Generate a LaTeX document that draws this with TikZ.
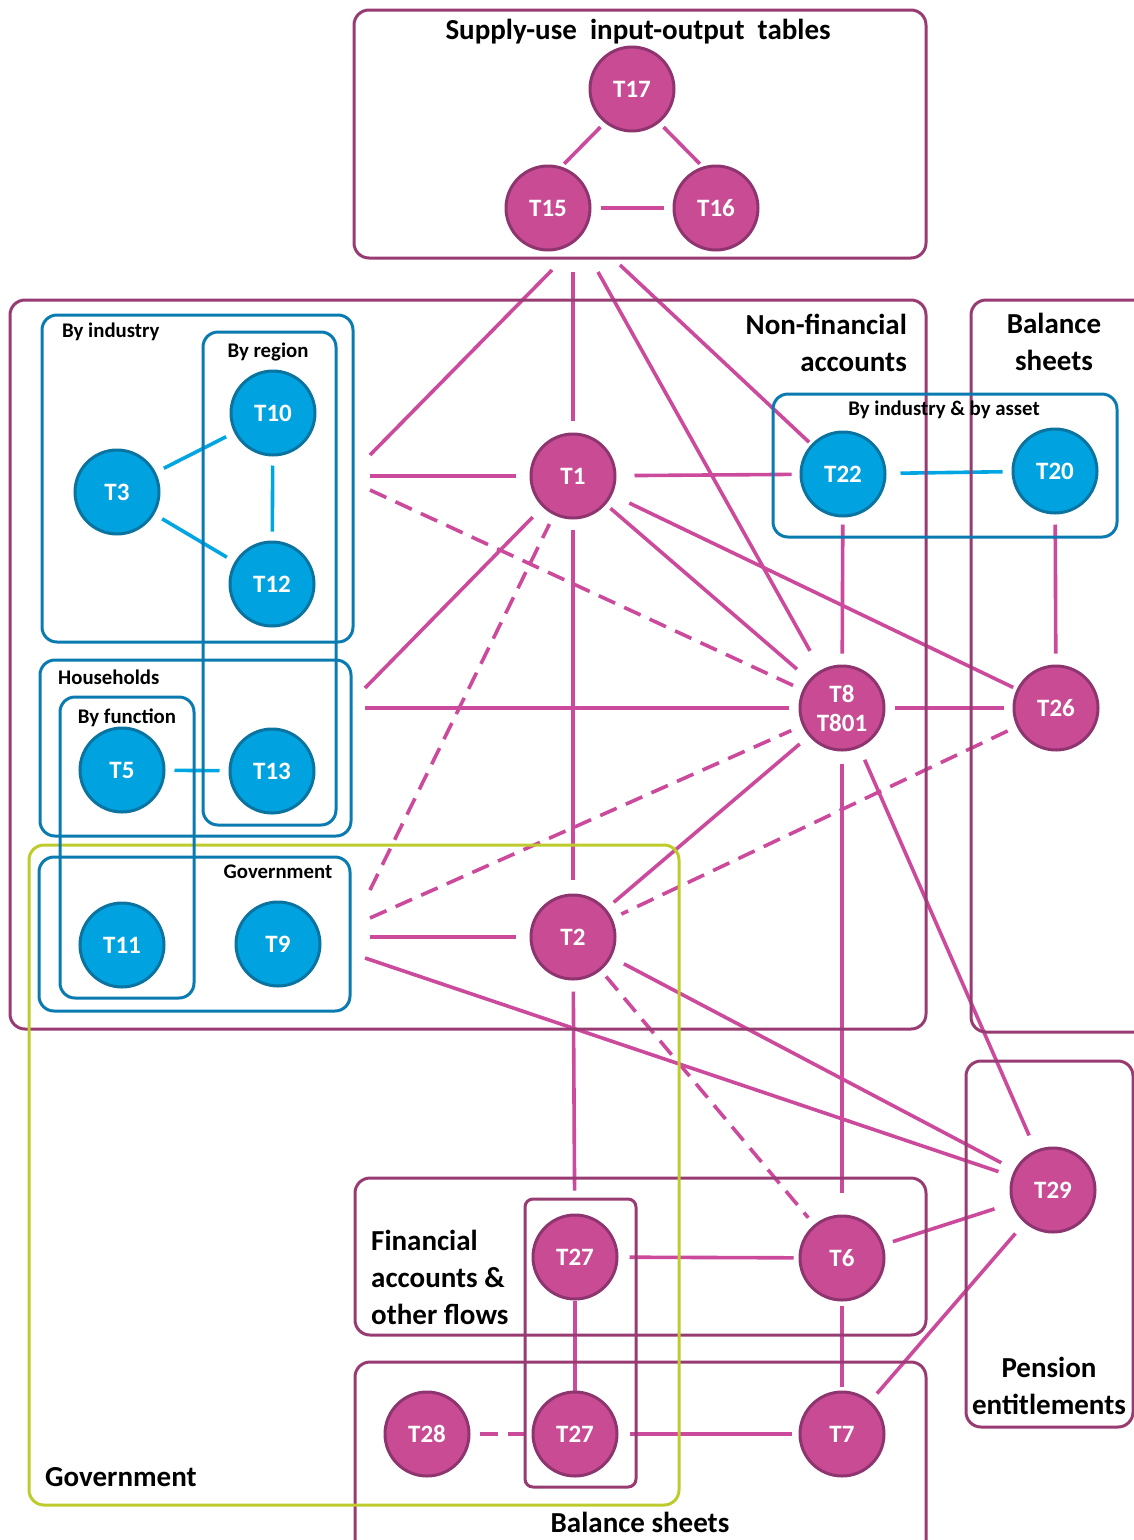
\documentclass[tikz,border=0pt]{standalone}
\usepackage{fontspec}
\setmainfont{Carlito}
\definecolor{magfill}{HTML}{C84B93}
\definecolor{magborder}{HTML}{8E3570}
\definecolor{magline}{HTML}{CC4A9B}
\definecolor{boxmag}{HTML}{983B73}
\definecolor{bluefill}{HTML}{00A3E0}
\definecolor{blueborder}{HTML}{0A73A0}
\definecolor{blueline}{HTML}{00A6E2}
\definecolor{boxblue}{HTML}{0A7BB0}
\definecolor{govgreen}{HTML}{BDCB2C}
\pgfdeclarelayer{background}
\pgfsetlayers{background,main}
\begin{document}
\begin{tikzpicture}[x=1pt,y=-1pt,
  magnode/.style={circle, fill=magfill, draw=magborder, line width=3pt, minimum size=84pt, inner sep=0pt, text=white, font=\bfseries\fontsize{25}{32}\selectfont, align=center},
  bluenode/.style={circle, fill=bluefill, draw=blueborder, line width=3pt, minimum size=84pt, inner sep=0pt, text=white, font=\bfseries\fontsize{25}{32}\selectfont},
  magbox/.style={draw=boxmag, line width=3pt, rounded corners=15pt},
  bluebox/.style={draw=boxblue, line width=3pt, rounded corners=15pt},
  govbox/.style={draw=govgreen, line width=3pt, rounded corners=15pt},
  conn/.style={draw=magline, line width=3.6pt},
  dconn/.style={conn, dash pattern=on 18pt off 10pt},
  bconn/.style={draw=blueline, line width=3.6pt},
  gap/.style={shorten >=9pt, shorten <=9pt},
  biglab/.style={font=\bfseries\fontsize{29}{37}\selectfont, text=black, inner sep=0pt},
  smalllab/.style={font=\bfseries\fontsize{20.8}{24}\selectfont, text=black, inner sep=0pt}
]
\useasboundingbox (0,0) rectangle (1134,1540);

% ---------- boxes ----------
\draw[magbox] (354,10) rectangle (926,258);
\draw[magbox] (10,300) rectangle (926,1029);
\draw[magbox] (971,300) rectangle (1150,1032);
\draw[magbox] (966,1061) rectangle (1133,1427);
\draw[magbox] (355,1178) rectangle (926,1335);
\draw[magbox] (355,1362) rectangle (926,1580);
\draw[magbox, rounded corners=8pt] (525,1199) rectangle (636,1487);
\draw[govbox] (29,845) rectangle (679,1505);
\draw[bluebox] (42,315) rectangle (353,642);
\draw[bluebox] (203,332) rectangle (336,825);
\draw[bluebox] (40,660) rectangle (351,836);
\draw[bluebox] (60,697) rectangle (194,998);
\draw[bluebox] (39,857) rectangle (350,1011);
\draw[bluebox] (773,394) rectangle (1117,537);

% ---------- labels ----------
\node[biglab] (lsup) at (638,32) {Supply-use\ \ input-output\ \ tables};
\node[biglab, anchor=east, align=right] (lnfa) at (907,343) {Non-financial\\accounts};
\node[biglab, align=center] (lbs1) at (1054,342) {Balance\\sheets};
\node[smalllab] (lbia) at (944,410) {By industry \& by asset};
\node[smalllab, anchor=west] (lind) at (62,332) {By industry};
\node[smalllab] (lreg) at (268,352) {By region};
\node[smalllab, anchor=west] (lhh) at (58,677) {Households};
\node[smalllab] (lfun) at (127,718) {By function};
\node[smalllab] (lgovs) at (278,872) {Government};
\node[biglab, anchor=west] (lgovb) at (45,1477) {Government};
\node[biglab, anchor=west, align=left] (lfin) at (371,1277) {Financial\\accounts \&\\other flows};
\node[biglab] (lbs2) at (640,1522) {Balance sheets};
\node[biglab, align=center] (lpen) at (1049,1386) {Pension\\entitlements};

% ---------- nodes ----------
\node[magnode] (T17) at (632,89) {T17};
\node[magnode] (T15) at (548,208) {T15};
\node[magnode] (T16) at (716,208) {T16};
\node[bluenode] (T3) at (117,492) {T3};
\node[bluenode] (T10) at (273,413) {T10};
\node[bluenode] (T12) at (272,584) {T12};
\node[bluenode] (T5) at (122,770) {T5};
\node[bluenode] (T13) at (272,771) {T13};
\node[bluenode] (T11) at (122,945) {T11};
\node[bluenode] (T9) at (278,944) {T9};
\node[magnode] (T1) at (573,476) {T1};
\node[bluenode] (T22) at (843,474) {T22};
\node[bluenode] (T20) at (1055,471) {T20};
\node[magnode] (T8) at (842,708) {T8\\[-3pt]T801};
\node[magnode] (T26) at (1056,708) {T26};
\node[magnode] (T2) at (573,937) {T2};
\node[magnode] (T27a) at (575,1257) {T27};
\node[magnode] (T6) at (842,1258) {T6};
\node[magnode] (T28) at (427,1434) {T28};
\node[magnode] (T27b) at (575,1434) {T27};
\node[magnode] (T7) at (842,1434) {T7};
\node[magnode] (T29) at (1053,1190) {T29};

% ---------- free ends ----------
\coordinate (su1) at (552,270);
\coordinate (su2) at (573,272);
\coordinate (su3) at (598,272);
\coordinate (su4) at (620,265);
\coordinate (ind1) at (370,455);
\coordinate (ind2) at (370,476);
\coordinate (ind3) at (370,490);
\coordinate (hh1) at (365,688);
\coordinate (hh2) at (365,708);
\coordinate (gov1) at (370,890);
\coordinate (gov2) at (370,918);
\coordinate (gov3) at (370,937);
\coordinate (gov4) at (365,958);

% ---------- connectors (behind nodes) ----------
\begin{pgfonlayer}{background}
% supply-use triangle
\draw[conn, shorten <=6pt, shorten >=4pt] (T17.231) -- (T15.72);
\draw[conn, shorten <=6pt, shorten >=4pt] (T17.309) -- (T16.108);
\draw[conn, gap] (T15) -- (T16);
% blue links
\draw[bconn, gap] (T3) -- (T10);
\draw[bconn, gap] (T3) -- (T12);
\draw[bconn, gap] (T10) -- (T12);
\draw[bconn, gap] (T5) -- (T13);
\draw[bconn, shorten >=9pt, shorten <=14pt] (T22) -- (T20);
% from supply-use box
\draw[conn] (su1) -- (ind1);
\draw[conn, shorten >=12pt] (su2) -- (T1);
\draw[conn, shorten >=22pt] (su3) -- (T8);
\draw[conn, shorten >=3pt] (su4) -- (T22);
% from the left groups
\draw[conn, shorten >=14pt] (ind2) -- (T1);
\draw[dconn, shorten >=8pt] (ind3) -- (T8);
\draw[conn, shorten >=14pt] (hh1) -- (T1);
\draw[conn, shorten >=10pt] (hh2) -- (T8);
\draw[dconn, shorten >=10pt] (gov1) -- (T1);
\draw[dconn, shorten >=12pt] (gov2) -- (T8);
\draw[conn, shorten >=14pt] (gov3) -- (T2);
\draw[conn, shorten >=14pt] (gov4) -- (T29);
% T1
\draw[conn, shorten <=18pt, shorten >=8pt] (T1) -- (T22);
\draw[conn, shorten <=10pt, shorten >=14pt] (T1) -- (T2);
\draw[conn, shorten <=6pt, shorten >=16pt] (T1) -- (T8);
\draw[conn, shorten <=19pt, shorten >=4pt] (T1) -- (T26);
% T22 / T20
\draw[conn, shorten <=7pt, shorten >=11pt] (T22) -- (T8);
\draw[conn, shorten <=10pt, shorten >=11pt] (T20) -- (T26);
% T8
\draw[conn, gap] (T8) -- (T26);
\draw[conn, shorten <=12pt, shorten >=22pt] (T8) -- (T6);
\draw[conn, shorten <=12pt, shorten >=10pt] (T8) -- (T2);
\draw[conn, shorten <=13pt, shorten >=16pt] (T8) -- (T29);
\draw[dconn, shorten <=10pt, shorten >=10pt] (T26) -- (T2);
% T2
\draw[conn, shorten <=11pt, shorten >=23pt] (T2) -- (T27a);
\draw[dconn, shorten <=8pt, shorten >=9pt] (T2) -- (T6);
\draw[conn, shorten <=14pt, shorten >=15pt] (T2) -- (T29);
% lower part
\draw[conn, shorten <=11pt, shorten >=5pt] (T27a) -- (T6);
\draw[conn, shorten <=10pt, shorten >=18pt] (T6) -- (T29);
\draw[conn, shorten <=4pt, shorten >=4pt] (T6) -- (T7);
\draw[conn] (T27a) -- (T27b);
\draw[conn, shorten <=11pt, shorten >=7pt] (T27b) -- (T7);
\draw[conn, shorten <=10pt, shorten >=14pt] (T7) -- (T29);
\draw[dconn, shorten <=9pt, shorten >=8pt] (T28) -- (T27b);
\end{pgfonlayer}
\end{tikzpicture}
\end{document}
